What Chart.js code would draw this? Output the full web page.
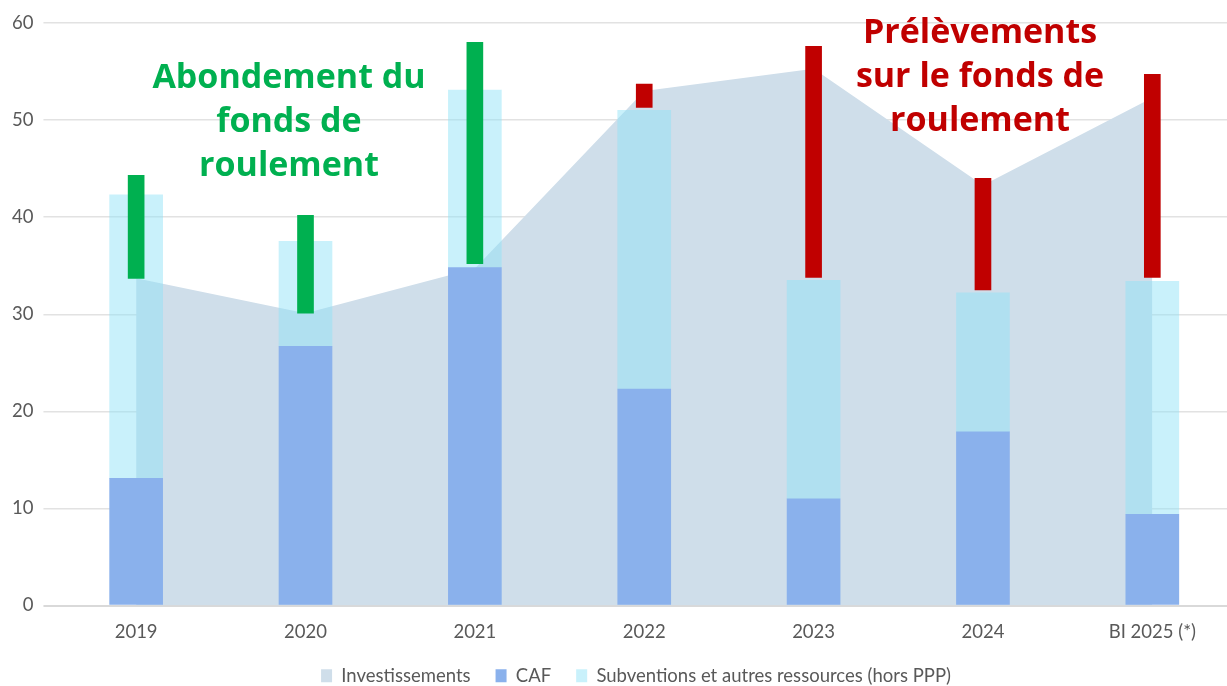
<!DOCTYPE html>
<html lang="fr">
<head>
<meta charset="utf-8">
<title>Investissements et ressources</title>
<script src="https://cdn.jsdelivr.net/npm/chart.js@4.4.1/dist/chart.umd.min.js"></script>
<style>
  html, body { margin: 0; padding: 0; background: #fff; overflow: hidden; }
  #wrap { position: relative; width: 1240px; height: 686px; }
  .note {
    position: absolute;
    width: 400px;
    text-align: center;
    font-family: "Open Sans", sans-serif;
    font-weight: 700;
    font-size: 34px;
    line-height: 44px;
  }
  #abondement { left: 89px; top: 53px; color: #00b050; }
  #prelevement { left: 780px; top: 8px; color: #c00000; }
</style>
</head>
<body>
<div id="wrap">
  <canvas id="myChart"></canvas>
  <div class="note" id="abondement">Abondement du<br>fonds de<br>roulement</div>
  <div class="note" id="prelevement">Prélèvements<br>sur le fonds de<br>roulement</div>
</div>
<script>
// données (M€)
const labels = ["2019", "2020", "2021", "2022", "2023", "2024", "BI 2025 (*)"];
const investissements = [33.7, 30.1, 34.7, 53.0, 55.3, 43.3, 52.3];
const caf = [13.1, 26.7, 34.8, 22.3, 11.0, 17.9, 9.4];
const subventions = [29.2, 10.8, 18.3, 28.7, 22.5, 14.3, 24.0];

// barres fonds de roulement (bas / haut)
const fdrBas = [33.7, 30.1, 35.2, 51.3, 33.8, 32.5, 33.8];
const fdrHaut = [44.3, 40.2, 58.0, 53.7, 57.6, 44.0, 54.7];

const tickFont = { family: "Lato", size: 18.5 };

// vert si les ressources couvrent les investissements, rouge sinon
const fdrCouleurs = labels.map((_, i) =>
  caf[i] + subventions[i] >= investissements[i] ? "#00b050" : "#c00000"
);

const data = {
  labels,
  datasets: [
    {
      type: "line",
      label: "Investissements",
      data: investissements,
      backgroundColor: "#cfdeea",
      borderWidth: 0,
      pointRadius: 0,
      fill: "origin",
      order: 3,
    },
    {
      label: "CAF",
      data: caf,
      backgroundColor: "#8ab1ec",
      barThickness: 53,
      order: 1,
    },
    {
      label: "Subventions et autres ressources (hors PPP)",
      data: caf.map((v, i) => [v, v + subventions[i]]),
      backgroundColor: "rgba(143, 226, 247, 0.48)",
      barThickness: 53,
      order: 2,
    },
    {
      label: "Fonds de roulement",
      data: fdrBas.map((v, i) => [v, fdrHaut[i]]),
      backgroundColor: fdrCouleurs,
      barThickness: 16,
      order: 0,
    },
  ],
};

// décale la légende vers la droite comme dans l'original
const decalageLegende = {
  id: "decalageLegende",
  afterLayout(chart) {
    chart.legend.left += 33;
  },
};

const config = {
  type: "bar",
  data,
  plugins: [decalageLegende],
  options: {
    responsive: true,
    maintainAspectRatio: false,
    animation: false,
    layout: {
      padding: { left: 2, right: 3, top: 23, bottom: -9 },
    },
    datasets: {
      bar: { grouped: false },
    },
    scales: {
      x: {
        grid: { display: false, drawTicks: false },
        border: { display: false },
        ticks: {
          color: "#595959",
          font: { family: "Lato", size: 18.5, lineHeight: 1 },
          padding: 17,
        },
        afterFit: (scale) => {
          scale.height = 36;
        },
      },
      y: {
        min: 0,
        max: 60,
        border: { display: false },
        ticks: { stepSize: 10, color: "#595959", font: tickFont, padding: 10 },
        grid: {
          color: (ctx) => (ctx.tick && ctx.tick.value === 0 ? "#d9d9d9" : "#e2e2e2"),
          lineWidth: (ctx) => (ctx.tick && ctx.tick.value === 0 ? 2 : 1.5),
          tickLength: 8,
        },
      },
    },
    plugins: {
      legend: {
        position: "bottom",
        labels: {
          boxWidth: 11,
          boxHeight: 13,
          padding: 25,
          color: "#595959",
          font: tickFont,
          filter: (item) => item.datasetIndex !== 3,
          sort: (a, b) => a.datasetIndex - b.datasetIndex,
        },
      },
      tooltip: { enabled: false },
    },
  },
};

// render init block
const myChart = new Chart(document.getElementById("myChart"), config);
</script>
</body>
</html>
